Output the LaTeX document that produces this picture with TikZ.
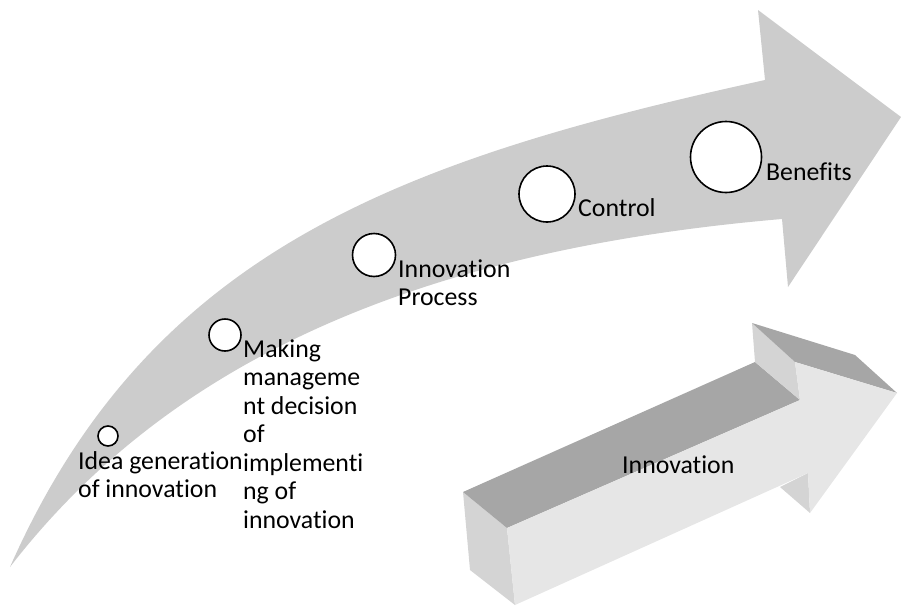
\documentclass[tikz,border=0pt]{standalone}
\usepackage{fontspec}
\setmainfont{Carlito}[Ligatures=NoCommon]
\usepackage{tikz}

\definecolor{bandgray}{RGB}{204,204,204}
\definecolor{topgray}{RGB}{166,166,166}
\definecolor{sidegray}{RGB}{212,212,212}
\definecolor{frontgray}{RGB}{230,230,230}

\begin{document}
\begin{tikzpicture}[x=1pt,y=-1pt,
        stage/.style={circle,draw=black,line width=1.6pt,fill=white,inner sep=0pt},
        lbl/.style={anchor=base west,inner sep=0pt,align=left,font=\fontsize{25.8}{28.5}\selectfont}]
            \useasboundingbox (0,0) rectangle (901,605);

            % curved arrow
            \fill[bandgray] (10,567) .. controls (150,250) and (400,160) .. (765,80)
                -- (758,10) -- (901,117) -- (788,287) -- (782,219)
                .. controls (420,250) and (170,360) .. (10,567) -- cycle;

            \node[stage,minimum size=20pt] (idea) at (108,436) {};
            \node[stage,minimum size=32pt] (making) at (225,335) {};
            \node[stage,minimum size=43pt] (process) at (374,255) {};
            \node[stage,minimum size=56pt] (control) at (547,194) {};
            \node[stage,minimum size=71pt] (benefits) at (726,157) {};

            % base of a label is its last line
            \node[lbl] (ideatext) at (78,497.5) {Idea generation\\of innovation};
            \node[lbl] (makingtext) at (243,528) {Making\\manageme\\nt decision\\of\\implementi\\ng of\\innovation};
            \node[lbl] (processtext) at (398,305.5) {Innovation\\Process};
            \node[lbl] (controltext) at (578,216) {Control};
            \node[lbl] (benefitstext) at (766,180) {Benefits};

            % 3d arrow
            \fill[sidegray] (463,492) -- (507,528) -- (515,605) -- (470,570) -- cycle;
            \fill[topgray] (463,492) -- (755,362) -- (800,400) -- (507,528) -- cycle;
            \fill[sidegray] (752,323) -- (795,362) -- (800,400) -- (755,362) -- cycle;
            \fill[topgray] (752,323) -- (855,355) -- (897,393) -- (795,362) -- cycle;
            \fill[sidegray] (780,487) -- (808,473) -- (810,513) -- cycle;
            \fill[frontgray] (507,528) -- (800,400) -- (795,362) -- (897,393) -- (810,513) -- (808,473) -- (515,605) -- cycle;

            \node[lbl] (innotext) at (622,473) {Innovation};
        \end{tikzpicture}
\end{document}
